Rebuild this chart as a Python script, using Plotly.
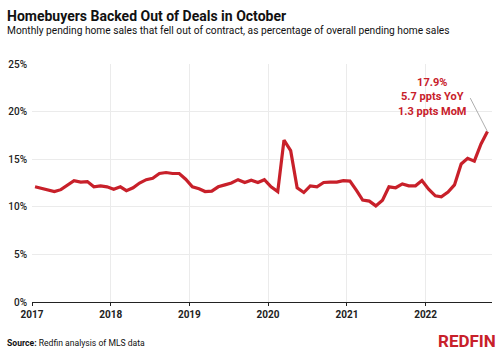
import plotly.graph_objects as go
import pandas as pd

# Monthly share of pending sales that fell out of contract (%), Jan 2017 - Oct 2022
v2017 = [12.1, 11.9, 11.75, 11.6, 11.8, 12.3, 12.75, 12.6, 12.65, 12.1, 12.2, 12.1]
v2018 = [11.85, 12.1, 11.7, 12.0, 12.5, 12.85, 13.0, 13.5, 13.6, 13.5, 13.5, 12.9]
v2019 = [12.1, 11.9, 11.6, 11.65, 12.1, 12.3, 12.5, 12.85, 12.55, 12.8, 12.55, 12.85]
v2020 = [12.1, 11.6, 17.0, 15.9, 12.0, 11.5, 12.2, 12.1, 12.55, 12.6, 12.6, 12.75]
v2021 = [12.7, 11.7, 10.7, 10.6, 10.1, 10.7, 12.1, 12.0, 12.4, 12.2, 12.2, 12.75]
v2022 = [11.85, 11.15, 11.05, 11.55, 12.3, 14.5, 15.1, 14.8, 16.6, 17.9]
values = v2017 + v2018 + v2019 + v2020 + v2021 + v2022
months = pd.date_range("2017-01-01", periods=len(values), freq="MS")
dates = [pd.Timestamp(d.year, d.month, 15) for d in months]

year_ticks = ["2017-01-01", "2018-01-01", "2019-01-01", "2020-01-01", "2021-01-01", "2022-01-01"]
year_labels = ["2017", "2018", "2019", "2020", "2021", "2022"]
y_ticks = [0, 5, 10, 15, 20, 25]
y_labels = ["0%", "5%", "10%", "15%", "20%", "25%"]

title = "Homebuyers Backed Out of Deals in October"
subtitle = "Monthly pending home sales that fell out of contract, as percentage of overall pending home sales"
callout = "17.9%<br>5.7 ppts YoY<br>1.3 ppts MoM"

RED = "#C8202A"
FONT = "Roboto"

fig = go.Figure()
fig.add_trace(go.Scatter(x=dates, y=values, mode="lines",
                         line=dict(color=RED, width=3.2, shape="linear"),
                         hoverinfo="skip"))

L, R, T, B = 32, 8, 64, 50
W, H = 500, 352
ph = H - T - B
pw = W - L - R

def py(p):
    return (H - B - p) / ph

def px(p):
    return (p - L) / pw

fig.update_layout(
    width=W, height=H,
    margin=dict(l=L, r=R, t=T, b=B),
    paper_bgcolor="white", plot_bgcolor="white",
    showlegend=False,
    font=dict(family=FONT, color="#222"),
    xaxis=dict(
        range=["2017-01-01", "2022-11-05"],
        tickvals=year_ticks, ticktext=year_labels,
        showgrid=True, gridcolor="#ebebeb", gridwidth=1,
        showline=True, linecolor="#222", linewidth=1.2,
        ticks="outside", ticklen=3, tickcolor="#222",
        tickfont=dict(family=FONT, size=10, color="#222", weight="bold"),
        zeroline=False,
    ),
    yaxis=dict(
        range=[0, 25],
        tickvals=y_ticks, ticktext=y_labels,
        showgrid=True, gridcolor="#ebebeb", gridwidth=1,
        zeroline=False, showline=False, ticks="",
        tickfont=dict(family=FONT, size=10, color="#222", weight=500),
        ticklabelstandoff=4,
    ),
)

fig.add_annotation(xref="paper", yref="paper", x=px(5), y=py(16), xanchor="left", yanchor="middle",
                   text=f"<b>{title}</b>", showarrow=False,
                   font=dict(family=FONT, size=14, color="#111"))
fig.add_annotation(xref="paper", yref="paper", x=px(5), y=py(30.5), xanchor="left", yanchor="middle",
                   text=subtitle, showarrow=False,
                   font=dict(family=FONT, size=10.2, color="#111"))
fig.add_annotation(xref="paper", yref="paper", x=px(5), y=py(343), xanchor="left", yanchor="middle",
                   text="<b>Source:</b> Redfin analysis of MLS data", showarrow=False,
                   font=dict(family=FONT, size=8.6, color="#111"))
fig.add_annotation(xref="paper", yref="paper", x=px(498), y=py(341), xanchor="right", yanchor="middle",
                   text="<b>REDFIN</b>", showarrow=False,
                   font=dict(family=FONT, size=17, color=RED))

# leader line from callout to last point
fig.add_annotation(x=dates[-1], y=values[-1], text="", showarrow=True,
                   arrowhead=0, arrowwidth=0.8, arrowcolor="#999",
                   ax=-18, ay=-35, standoff=0)
fig.add_annotation(x=dates[-1], y=values[-1], xanchor="center", yanchor="middle",
                   text=f"<b>{callout}</b>", showarrow=False, align="center",
                   xshift=-55, yshift=35,
                   font=dict(family=FONT, size=11, color=RED))

fig.write_html("out.html")
